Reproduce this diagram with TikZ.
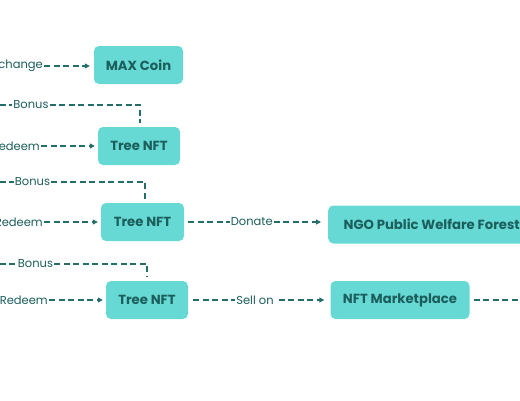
\documentclass[tikz,border=0pt]{standalone}
\usepackage{fontspec}
\setmainfont{Poppins}
\usetikzlibrary{arrows.meta}
\definecolor{boxfill}{HTML}{66D9D5}
\definecolor{ink}{HTML}{1B5E5B}
\definecolor{linec}{HTML}{236E6A}
\tikzset{
  box/.style={draw=none, fill=boxfill, rounded corners=5pt, minimum height=38pt,
    inner sep=2pt, text=ink, font=\fontsize{13.2}{15}\selectfont\bfseries},
  lbl/.style={inner sep=1pt, text=ink, font=\fontsize{11.5}{14}\selectfont},
  conn/.style={draw=linec, line width=1.4pt, dash pattern=on 6pt off 3.5pt},
  tip/.style={-{Triangle[length=5pt,width=5pt]}}
}
\begin{document}
\begin{tikzpicture}[x=1pt,y=-1pt]
\useasboundingbox (0,0) rectangle (520,400);
% boxes
\node[box, minimum width=89pt] (max) at (138.5,65) {MAX Coin};
\node[box, minimum width=82pt] (t1) at (139,146) {Tree NFT};
\node[box, minimum width=83pt] (t2) at (142.5,222) {Tree NFT};
\node[box, minimum width=207pt, anchor=west] (ngo) at (328,224.5) {NGO Public Welfare Forest};
\node[box, minimum width=82pt] (t3) at (147,300) {Tree NFT};
\node[box, minimum width=139pt] (mkt) at (400,300) {NFT Marketplace};
% left labels
\node[lbl, anchor=east] (ex) at (44,66) {Exchange};
\node[lbl, anchor=east] (r1) at (41,146) {Redeem};
\node[lbl, anchor=east] (r2) at (44,222) {Redeem};
\node[lbl, anchor=east] (r3) at (49,300) {Redeem};
\node[lbl] (b1) at (31,105) {Bonus};
\node[lbl] (b2) at (32.5,182) {Bonus};
\node[lbl] (b3) at (35.5,264) {Bonus};
\coordinate (l1) at (-10,105);
\coordinate (l2) at (-10,182);
\coordinate (l3) at (-10,264);
\coordinate (c1) at (140,105);
\coordinate (c2) at (145,182);
\coordinate (c3) at (147,264);
\coordinate (out) at (530,300);
% connectors
\draw[conn,tip,shorten >=4pt] (ex.east) -- (ex.east -| max.west);
\draw[conn,tip,shorten >=3pt] (r1.east) -- (r1.east -| t1.west);
\draw[conn,tip,shorten >=3pt] (r2.east) -- (r2.east -| t2.west);
\draw[conn,tip,shorten >=3pt] (r3.east) -- (r3.east -| t3.west);
\draw[conn] (l1) -- (b1.west);
\draw[conn] (l2) -- (b2.west);
\draw[conn] (l3) -- (b3.west);
\draw[conn,shorten >=4pt] (b1.east) -- (c1) -- (c1 |- t1.north);
\draw[conn,shorten >=4pt] (b2.east) -- (c2) -- (c2 |- t2.north);
\draw[conn,shorten >=4pt] (b3.east) -- (c3) -- (c3 |- t3.north);
\draw[conn,tip,shorten <=4pt,shorten >=7pt] (t2.east) -- node[lbl,fill=white,pos=0.47] {Donate} (t2.east -| ngo.west);
\draw[conn,tip,shorten <=5pt,shorten >=6pt] (t3.east) -- node[lbl,fill=white,pos=0.47] {Sell on} (t3.east -| mkt.west);
\draw[conn,shorten <=4pt] (mkt.east) -- (out);
\end{tikzpicture}
\end{document}
